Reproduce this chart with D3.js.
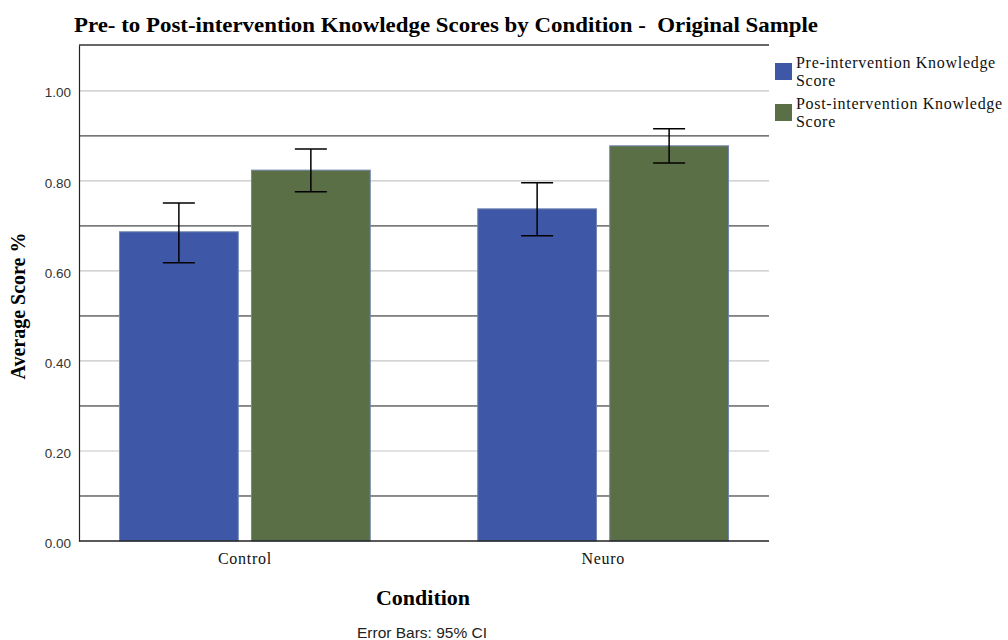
<!DOCTYPE html>
<html>
<head>
<meta charset="utf-8">
<script src="https://cdn.jsdelivr.net/npm/d3@7"></script>
<style>
  body { margin: 0; background: #fff; }
  svg { display: block; }
</style>
</head>
<body>
<div id="chart"></div>
<script>
// chart values
var conditions = ["Control", "Neuro"];
var seriesNames = ["Pre-intervention Knowledge Score", "Post-intervention Knowledge Score"];
var legendLines = [["Pre-intervention Knowledge", "Score"], ["Post-intervention Knowledge", "Score"]];
var preMeans = [0.687, 0.738];
var preLow = [0.618, 0.678];
var preHigh = [0.751, 0.796];
var postMeans = [0.824, 0.878];
var postLow = [0.776, 0.840];
var postHigh = [0.871, 0.916];
var yTicks = [0, 0.2, 0.4, 0.6, 0.8, 1.0];
var yMinor = [0.1, 0.3, 0.5, 0.7, 0.9];
var colors = ["#3e58a7", "#5b6f46"];

var width = 1008, height = 640;
var margin = {left: 79, right: 239, top: 45, bottom: 99};
var serif = 'Liberation Serif, Times New Roman, serif';
var sans = 'Liberation Sans, Arial, sans-serif';

function init() {
  var data = conditions.map(function(c, i) {
    return {
      condition: c,
      values: [
        {key: seriesNames[0], mean: preMeans[i], lo: preLow[i], hi: preHigh[i]},
        {key: seriesNames[1], mean: postMeans[i], lo: postLow[i], hi: postHigh[i]}
      ]
    };
  });

  var svg = d3.select('#chart')
              .append('svg')
              .attr('width', width)
              .attr('height', height);

  var x0 = d3.scaleBand()
             .domain(conditions)
             .range([margin.left, width - margin.right])
             .paddingInner(0.3)
             .paddingOuter(0.113);
  var x1 = d3.scaleBand()
             .domain(seriesNames)
             .range([0, x0.bandwidth()])
             .paddingInner(0.1);
  var y = d3.scaleLinear()
            .domain([0, 1.102])
            .range([height - margin.bottom, margin.top]);
  var color = d3.scaleOrdinal().domain(seriesNames).range(colors);

  var x0l = margin.left, x1r = width - margin.right;

  // light gridlines at labelled ticks
  svg.append('g')
     .selectAll('line')
     .data(yTicks.slice(1))
     .join('line')
     .attr('x1', x0l).attr('x2', x1r)
     .attr('y1', d => y(d)).attr('y2', d => y(d))
     .attr('stroke', '#c6c6c6').attr('stroke-width', 1.2);

  // dark lines in between
  svg.append('g')
     .selectAll('line')
     .data(yMinor)
     .join('line')
     .attr('x1', x0l).attr('x2', x1r)
     .attr('y1', d => y(d)).attr('y2', d => y(d))
     .attr('stroke', '#1a1a1a').attr('stroke-width', 1);

  // top frame line
  svg.append('line')
     .attr('x1', x0l).attr('x2', x1r)
     .attr('y1', y(1.102)).attr('y2', y(1.102))
     .attr('stroke', '#666').attr('stroke-width', 2);

  // bars
  var groups = svg.append('g')
     .selectAll('g')
     .data(data)
     .join('g')
     .attr('transform', d => `translate(${x0(d.condition)},0)`);

  groups.selectAll('rect')
     .data(d => d.values)
     .join('rect')
     .attr('x', d => x1(d.key))
     .attr('y', d => y(d.mean))
     .attr('width', x1.bandwidth())
     .attr('height', d => y(0) - y(d.mean))
     .attr('fill', d => color(d.key))
     .attr('stroke', '#7286b0')
     .attr('stroke-width', 1);

  // error bars
  var capW = 16;
  var eb = groups.selectAll('g.err')
     .data(d => d.values)
     .join('g')
     .attr('class', 'err')
     .attr('stroke', '#000')
     .attr('stroke-width', 1.5);
  eb.append('line')
    .attr('x1', d => x1(d.key) + x1.bandwidth() / 2)
    .attr('x2', d => x1(d.key) + x1.bandwidth() / 2)
    .attr('y1', d => y(d.lo)).attr('y2', d => y(d.hi));
  eb.append('line')
    .attr('x1', d => x1(d.key) + x1.bandwidth() / 2 - capW)
    .attr('x2', d => x1(d.key) + x1.bandwidth() / 2 + capW)
    .attr('y1', d => y(d.hi)).attr('y2', d => y(d.hi));
  eb.append('line')
    .attr('x1', d => x1(d.key) + x1.bandwidth() / 2 - capW)
    .attr('x2', d => x1(d.key) + x1.bandwidth() / 2 + capW)
    .attr('y1', d => y(d.lo)).attr('y2', d => y(d.lo));

  // axes
  var yAxis = svg.append('g')
     .attr('transform', `translate(${x0l},0)`)
     .call(d3.axisLeft(y).tickValues(yTicks).tickFormat(d3.format('.2f')).tickSize(0).tickPadding(8));
  yAxis.select('.domain').attr('stroke', '#222').attr('stroke-width', 1.2);
  yAxis.selectAll('text')
       .attr('font-family', sans)
       .attr('font-size', 13.5)
       .attr('dy', '0.45em')
       .attr('fill', '#333');

  var xAxis = svg.append('g')
     .attr('transform', `translate(0,${y(0)})`)
     .call(d3.axisBottom(x0).tickSize(0).tickPadding(12));
  xAxis.select('.domain').attr('stroke', '#222').attr('stroke-width', 1.4)
       .attr('d', `M${x0l},0H${x1r}`);
  xAxis.selectAll('text')
       .attr('font-family', serif)
       .attr('font-size', 16)
       .attr('letter-spacing', 0.7)
       .attr('fill', '#111');

  // title
  svg.append('text')
     .attr('x', 74).attr('y', 32)
     .attr('font-family', serif)
     .attr('font-weight', 'bold')
     .attr('font-size', 21)
     .attr('textLength', 744)
     .attr('lengthAdjust', 'spacingAndGlyphs')
     .style('white-space', 'pre')
     .text('Pre- to Post-intervention Knowledge Scores by Condition -  Original Sample');

  // axis titles
  svg.append('text')
     .attr('transform', 'translate(25,306) rotate(-90)')
     .attr('text-anchor', 'middle')
     .attr('font-family', serif)
     .attr('font-weight', 'bold')
     .attr('font-size', 20)
     .text('Average Score %');

  svg.append('text')
     .attr('x', 423).attr('y', 605)
     .attr('text-anchor', 'middle')
     .attr('font-family', serif)
     .attr('font-weight', 'bold')
     .attr('font-size', 22)
     .text('Condition');

  svg.append('text')
     .attr('x', 422).attr('y', 638)
     .attr('text-anchor', 'middle')
     .attr('font-family', sans)
     .attr('font-size', 15.5)
     .attr('fill', '#222')
     .text('Error Bars: 95% CI');

  // legend
  var legend = svg.append('g')
     .selectAll('g')
     .data(seriesNames)
     .join('g')
     .attr('transform', (d, i) => `translate(775,${63 + i * 41})`);
  legend.append('rect')
     .attr('width', 17).attr('height', 17)
     .attr('fill', d => color(d));
  legend.append('text')
     .attr('font-family', serif)
     .attr('font-size', 16)
     .attr('letter-spacing', 0.7)
     .attr('fill', '#111')
     .selectAll('tspan')
     .data((d, i) => legendLines[i])
     .join('tspan')
     .attr('x', 21)
     .attr('y', (d, j) => 5 + j * 18)
     .text(d => d);
}

window.onload = init;
</script>
</body>
</html>
